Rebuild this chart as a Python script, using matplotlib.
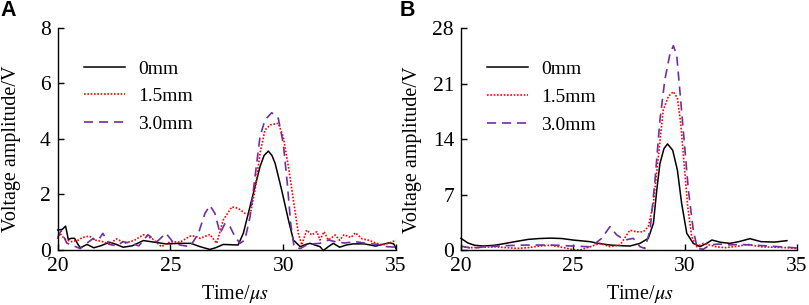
import matplotlib
matplotlib.use("Agg")
import matplotlib.pyplot as plt

# ---------------- data ----------------
a_t0 = [20.0, 20.2, 20.35, 20.47, 20.6, 20.75, 20.9, 21.0, 21.3, 21.6, 21.9, 22.3, 22.6, 22.9, 23.3, 23.8, 24.3, 24.8,
        25.42, 25.9, 26.31, 26.75, 27.0, 27.34, 28.0, 28.23, 28.6, 28.97, 29.15, 29.34, 29.5, 29.64, 29.93, 30.23,
        30.45, 30.75, 31.0, 31.19, 31.4, 31.63, 31.78, 32.0, 32.22, 32.5, 32.8, 33.1, 33.6, 34.1, 34.4, 34.7, 34.9, 35.0]
a_v0 = [0.72, 0.74, 0.86, 0.38, 0.42, 0.42, 0.2, 0.08, 0.2, 0.08, 0.15, 0.28, 0.2, 0.1, 0.15, 0.34, 0.28, 0.22,
        0.24, 0.24, 0.12, 0.02, 0.08, 0.2, 0.18, 0.6, 1.8, 3.0, 3.4, 3.56, 3.4, 3.12, 2.16, 1.08,
        0.36, 0.12, 0.2, 0.24, 0.18, 0.12, -0.02, 0.12, 0.24, 0.1, 0.18, 0.22, 0.22, 0.14, 0.2, 0.26, 0.22, 0.05]

a_t15 = [20.0, 20.1, 20.3, 20.6, 20.9, 21.1, 21.4, 21.7, 22.0, 22.3, 22.6, 23.0, 23.4, 23.8, 24.2, 24.6, 25.0, 25.42,
         25.87, 26.1, 26.31, 26.75, 27.05, 27.34, 27.72, 28.0, 28.3, 28.53, 28.75, 28.97, 29.19, 29.42, 29.78, 30.0,
         30.23, 30.45, 30.67, 30.82, 31.04, 31.26, 31.49, 31.63, 31.81, 32.0, 32.3, 32.5, 32.7, 33.0, 33.2, 33.5,
         33.8, 34.1, 34.4, 34.7, 35.0]
a_v15 = [0.4, 0.6, 0.4, 0.3, 0.35, 0.45, 0.5, 0.35, 0.3, 0.2, 0.4, 0.25, 0.35, 0.55, 0.4, 0.12, 0.3, 0.28,
         0.5, 0.5, 0.42, 0.56, 0.24, 1.08, 1.55, 1.5, 1.32, 1.26, 2.16, 3.48, 4.32, 4.5, 4.56, 4.08,
         3.0, 1.8, 0.6, 0.18, 0.72, 0.54, 0.66, 0.36, 0.66, 0.36, 0.54, 0.35, 0.55, 0.45, 0.62, 0.4,
         0.35, 0.25, 0.18, 0.25, 0.35]

a_t30 = [20.0, 20.15, 20.4, 20.7, 21.0, 21.3, 21.55, 21.8, 22.0, 22.3, 22.6, 22.9, 23.2, 23.6, 24.0, 24.4, 24.8, 25.1,
         25.42, 25.87, 26.24, 26.53, 26.75, 26.97, 27.2, 27.42, 27.64, 27.86, 28.08, 28.3, 28.53, 28.75, 28.97,
         29.19, 29.49, 29.78, 30.0, 30.18, 30.33, 30.48, 30.75, 31.04, 31.3, 31.63, 32.0, 32.3, 32.7, 33.2, 33.6,
         34.2, 34.6, 35.0]
a_v30 = [0.45, 0.7, 0.25, 0.15, 0.05, 0.25, 0.4, 0.35, 0.6, 0.2, 0.15, 0.3, 0.25, 0.15, 0.55, 0.3, 0.6, 0.3,
         0.18, 0.12, 0.6, 1.32, 1.6, 1.32, 0.6, 0.96, 0.84, 0.48, 0.24, 0.36, 1.2, 2.64, 4.08,
         4.68, 4.94, 4.74, 3.84, 2.4, 0.96, 0.12, 0.05, 0.18, 0.22, 0.24, 0.36, 0.3, 0.25, 0.3, 0.25,
         0.2, 0.12, 0.1]

b_t0 = [20.0, 20.3, 20.6, 21.0, 21.5, 22.0, 22.5, 23.0, 23.5, 24.0, 24.5, 25.0, 25.4, 25.76, 26.2, 26.65, 27.1, 27.54,
        27.99, 28.36, 28.59, 28.74, 28.88, 29.06, 29.22, 29.45, 29.66, 29.85, 30.08, 30.37, 30.67, 30.97, 31.2,
        31.6, 32.0, 32.4, 32.9, 33.4, 34.0, 34.55]
b_v0 = [1.47, 0.9, 0.6, 0.5, 0.6, 0.84, 1.1, 1.34, 1.45, 1.5, 1.45, 1.26, 1.15, 1.05, 0.8, 0.63, 0.55, 0.5,
        0.84, 1.47, 3.37, 7.58, 10.9, 12.8, 13.4, 12.6, 10.1, 5.9, 2.1, 0.84, 0.42, 0.84, 1.26,
        0.97, 0.84, 1.05, 1.43, 1.05, 1.0, 1.18]

b_t15 = [20.0, 20.5, 21.0, 21.5, 22.0, 22.5, 23.0, 23.5, 24.0, 24.5, 25.0, 25.3, 25.76, 26.2, 26.65, 27.1, 27.54,
         27.84, 28.14, 28.36, 28.59, 28.81, 29.03, 29.26, 29.48, 29.66, 29.81, 29.96, 30.12, 30.3, 30.52, 30.82,
         31.1, 31.4, 31.8, 32.3, 32.8, 33.4, 34.0, 34.5, 35.0]
b_v15 = [0.4, 0.3, 0.35, 0.4, 0.3, 0.2, 0.3, 0.5, 0.6, 0.35, 0.05, 0.0, 0.4, 0.84, 0.42, 0.63, 2.5,
         2.3, 2.3, 2.95, 5.9, 11.8, 17.7, 19.4, 20.0, 19.2, 16.0, 10.9, 5.5, 1.68, 0.42, 0.84,
         0.63, 0.4, 0.3, 0.45, 0.7, 0.4, 0.35, 0.3, 0.2]

b_t30 = [20.0, 20.5, 21.0, 22.0, 23.0, 24.0, 25.0, 25.8, 26.28, 26.65, 26.95, 27.32, 27.69, 27.99, 28.21, 28.44,
         28.66, 28.88, 29.1, 29.33, 29.48, 29.63, 29.78, 29.96, 30.15, 30.37, 30.55, 30.82, 31.1, 31.5, 32.0,
         32.5, 33.2, 34.0, 34.8, 35.0]
b_v30 = [0.5, 0.2, 0.4, 0.55, 0.63, 0.63, 0.5, 0.4, 1.47, 2.95, 1.9, 1.26, 1.47, 0.42, 0.2, 2.5,
         8.8, 16.4, 21.5, 24.8, 25.8, 24.6, 19.8, 13.9, 7.6, 2.5, 0.2, 0.1, 0.63, 0.75, 0.65,
         0.7, 0.6, 0.45, 0.3, 0.25]

labels = ["0mm", "1.5mm", "3.0mm"]
x_ticks = [20, 25, 30, 35]
a_yticks = [0, 2, 4, 6, 8]
b_yticks = [0, 7, 14, 21, 28]

# ---------------- style ----------------
plt.rcParams["font.family"] = ["Liberation Serif", "DejaVu Serif"]
plt.rcParams["mathtext.fontset"] = "stix"

W, H = 809, 305
fig = plt.figure(figsize=(W / 100, H / 100), dpi=100)

colors = ["black", "#ff0000", "#7030a0"]
styles = ["-", (0, (1, 1)), (0, (5.5, 3.5))]
lws = [1.1, 1.2, 1.2]


def make_ax(left_px, right_px, top_px, bottom_px):
    ax = fig.add_axes([left_px / W, 1 - bottom_px / H, (right_px - left_px) / W, (bottom_px - top_px) / H])
    for s in ["top", "right"]:
        ax.spines[s].set_visible(False)
    for s in ["left", "bottom"]:
        ax.spines[s].set_linewidth(1.0)
    ax.tick_params(direction="in", length=4, width=1.0, labelsize=15.5, pad=5)
    ax.set_xlim(20, 35)
    ax.set_xticks(x_ticks)
    return ax


axA = make_ax(57.7, 396, 27.7, 250)
axB = make_ax(461, 797, 28.3, 250)

for ax, ts, vs in [(axA, [a_t0, a_t15, a_t30], [a_v0, a_v15, a_v30]),
                   (axB, [b_t0, b_t15, b_t30], [b_v0, b_v15, b_v30])]:
    for t, v, c, ls, lw, lab in zip(ts, vs, colors, styles, lws, labels):
        ax.plot(t, v, color=c, linestyle=ls, linewidth=lw, label=lab, clip_on=False)
    ax.legend(loc="upper left", bbox_to_anchor=(0.078, 0.855), frameon=False, fontsize=14,
              handlelength=2.1, handletextpad=0.67, labelspacing=0.52, borderaxespad=0, borderpad=0)

axA.set_ylim(0, 8)
axA.set_yticks(a_yticks)
axB.set_ylim(0, 28)
axB.set_yticks(b_yticks)

# axis labels
for cx, cy in [(11.5, 149), (412.5, 150)]:
    fig.text(cx / W, 1 - cy / H, "Voltage amplitude/V", rotation=90, ha="center", va="center", fontsize=14.5)
for cx in [235, 640]:
    fig.text(cx / W, 1 - 294 / H, "Time/$\\mu s$", ha="center", va="center", fontsize=14.5)

# panel letters
fig.text(0 / W, 1 - 0 / H, "A", ha="left", va="top", fontsize=15.5, fontweight="bold", family="Liberation Sans")
fig.text(400 / W, 1 - 0 / H, "B", ha="left", va="top", fontsize=15.5, fontweight="bold", family="Liberation Sans")

fig.savefig("out.png", dpi=100)
